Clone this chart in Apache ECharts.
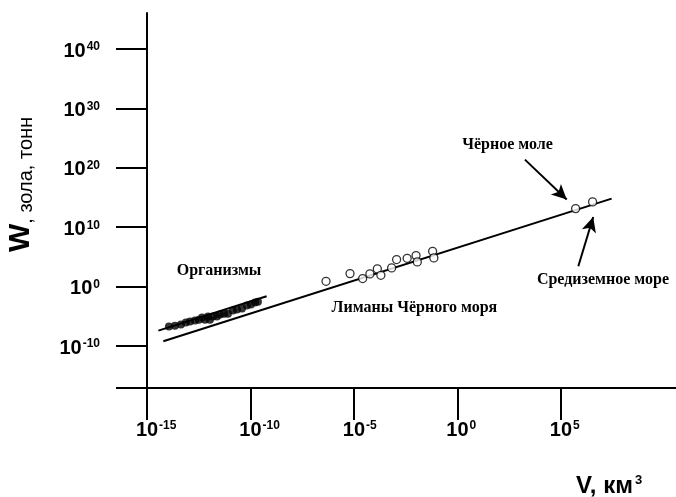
<!DOCTYPE html>
<html><head><meta charset="utf-8">
<script src="https://cdn.jsdelivr.net/npm/echarts@6/dist/echarts.min.js"></script>
<style>html,body{margin:0;padding:0;background:#fff}#c{width:676px;height:497px}</style>
</head><body><div id="c"></div>
<script>
// All values are log10 exponents (V in km^3, W in tonnes of ash)
const xTickExps = [-15, -10, -5, 0, 5];
const yTickExps = [-10, 0, 10, 20, 30, 40];

const organismsLogV = [-13.94,-13.65,-13.36,-13.12,-12.92,-12.68,-12.49,-12.34,-12.20,-12.05,-11.96,-11.81,-11.62,-11.47,-11.28,-11.09,-10.85,-10.65,-10.41,-10.17,-9.98,-9.78,-9.64];
const organismsLogW = [-6.73,-6.57,-6.40,-6.06,-5.89,-5.72,-5.56,-5.22,-5.56,-5.05,-5.56,-5.05,-5.05,-4.71,-4.55,-4.55,-4.04,-3.87,-3.70,-3.20,-3.03,-2.69,-2.53];

const limansLogV = [-6.35,-5.19,-4.58,-4.23,-3.87,-3.70,-3.18,-2.94,-2.43,-2.00,-1.94,-1.20,-1.14];
const limansLogW = [0.89,2.19,1.35,2.14,2.98,1.90,3.15,4.55,4.76,5.22,4.16,5.94,4.83];

const seasLogV = [5.71, 6.53];   // Чёрное море, Средиземное море
const seasLogW = [13.13, 14.26];

const orgFitLogV = [-14.45, -9.22];
const orgFitLogW = [-7.41, -1.63];
const mainFitLogV = [-14.21, 7.45];
const mainFitLogW = [-9.21, 14.81];

const annotationTexts = ['Организмы', 'Лиманы Чёрного моря', 'Чёрное моле', 'Средиземное море'];
</script>
<script>
const annotationAt = [[-11.52, 2.58], [-2.08, -3.6], [2.42, 23.9], [7.03, 1.2]];
const arrowFrom = [[3.26, 21.38], [5.84, 3.42]];
const arrowTo = [[5.28, 14.65], [6.56, 11.73]];

const zip = (a, b) => a.map((v, i) => [v, b[i]]);
const SANS = '"Liberation Sans", Arial, sans-serif';
const SERIF = '"Liberation Serif", "Times New Roman", serif';
const X_MIN = -15, X_MAX = 10.56, Y_MIN = -17.07, Y_MAX = 46.06;

const supRich = {
  b: {fontSize: 20, fontWeight: 'bold', fontFamily: SANS, color: '#000', lineHeight: 20, padding: [9, 0, 0, 0], verticalAlign: 'bottom'},
  s: {fontSize: 12, fontWeight: 'bold', fontFamily: SANS, color: '#000', lineHeight: 12, verticalAlign: 'top', padding: [0, 0, 0, 1]},
  p: {fontSize: 12, fontWeight: 'bold', fontFamily: SANS, color: 'rgba(0,0,0,0)', lineHeight: 12, verticalAlign: 'top', padding: [0, 1, 0, 0]}
};

const chart = echarts.init(document.getElementById('c'), null, {renderer: 'canvas'});
chart.setOption({
  animation: false,
  backgroundColor: '#fff',
  grid: {left: 147, right: 0, top: 13, bottom: 109, containLabel: false},
  xAxis: {
    type: 'value', min: X_MIN, max: X_MAX,
    splitLine: {show: false},
    axisLine: {show: true, onZero: false, lineStyle: {color: '#000', width: 2}},
    axisTick: {show: true, length: 32, customValues: xTickExps, lineStyle: {color: '#000', width: 2}},
    axisLabel: {show: true, margin: 32, customValues: xTickExps,
      formatter: v => `{p|${v}}{b|10}{s|${v}}`, rich: supRich}
  },
  yAxis: {
    type: 'value', min: Y_MIN, max: Y_MAX,
    splitLine: {show: false},
    axisLine: {show: true, onZero: false, lineStyle: {color: '#000', width: 2}},
    axisTick: {show: true, length: 31, customValues: [Y_MIN].concat(yTickExps), lineStyle: {color: '#000', width: 2}},
    axisLabel: {show: true, margin: 47, customValues: yTickExps, padding: [4, 0, 0, 0],
      formatter: v => `{b|10}{s|${v}}`, rich: supRich}
  },
  graphic: [
    {type: 'text', x: 36, y: 252, rotation: Math.PI / 2, silent: true,
      style: {text: '{w|W}{t|, зола, тонн}', align: 'left', verticalAlign: 'bottom',
        rich: {
          w: {fontSize: 30, fontWeight: 'bold', fontFamily: SANS, fill: '#000', lineHeight: 30, verticalAlign: 'bottom'},
          t: {fontSize: 20, fontFamily: SANS, fill: '#000', lineHeight: 20, verticalAlign: 'bottom'}
        }}},
    {type: 'text', x: 576, y: 498, silent: true,
      style: {text: '{v|V, км}{s|3}', align: 'left', verticalAlign: 'bottom',
        rich: {
          v: {fontSize: 24, fontWeight: 'bold', fontFamily: SANS, fill: '#000', lineHeight: 24, padding: [2, 0, 0, 0], verticalAlign: 'bottom'},
          s: {fontSize: 13, fontWeight: 'bold', fontFamily: SANS, fill: '#000', lineHeight: 13, verticalAlign: 'top', padding: [0, 0, 0, 2]}
        }}}
  ],
  series: [
    {type: 'line', data: zip(orgFitLogV, orgFitLogW), symbol: 'none', z: 2,
      lineStyle: {color: '#000', width: 2}},
    {type: 'line', data: zip(mainFitLogV, mainFitLogW), symbol: 'none', z: 2,
      lineStyle: {color: '#000', width: 2}},
    {type: 'scatter', data: zip(organismsLogV, organismsLogW), symbol: 'circle', symbolSize: 8, z: 3,
      itemStyle: {color: '#000'}},
    {type: 'scatter', data: zip(limansLogV, limansLogW), symbol: 'circle', symbolSize: 8, z: 3,
      itemStyle: {color: '#fff', borderColor: '#000', borderWidth: 1.3}},
    {type: 'scatter', data: zip(seasLogV, seasLogW), symbol: 'circle', symbolSize: 8, z: 3,
      itemStyle: {color: '#fff', borderColor: '#000', borderWidth: 1.3},
      markLine: {
        silent: true, symbol: ['none', 'arrow'], symbolSize: [11, 15],
        label: {show: false},
        lineStyle: {color: '#000', width: 2, type: 'solid'},
        data: arrowFrom.map((f, i) => [{coord: f}, {coord: arrowTo[i]}])
      },
      markPoint: {
        silent: true, symbol: 'circle', symbolSize: 1,
        itemStyle: {color: 'rgba(0,0,0,0)'},
        label: {show: true, position: 'inside', fontFamily: SERIF, fontWeight: 'bold', fontSize: 16, color: '#000',
          formatter: p => p.name},
        data: annotationTexts.map((t, i) => ({name: t, coord: annotationAt[i]}))
      }
    }
  ]
});
</script>
</body></html>
